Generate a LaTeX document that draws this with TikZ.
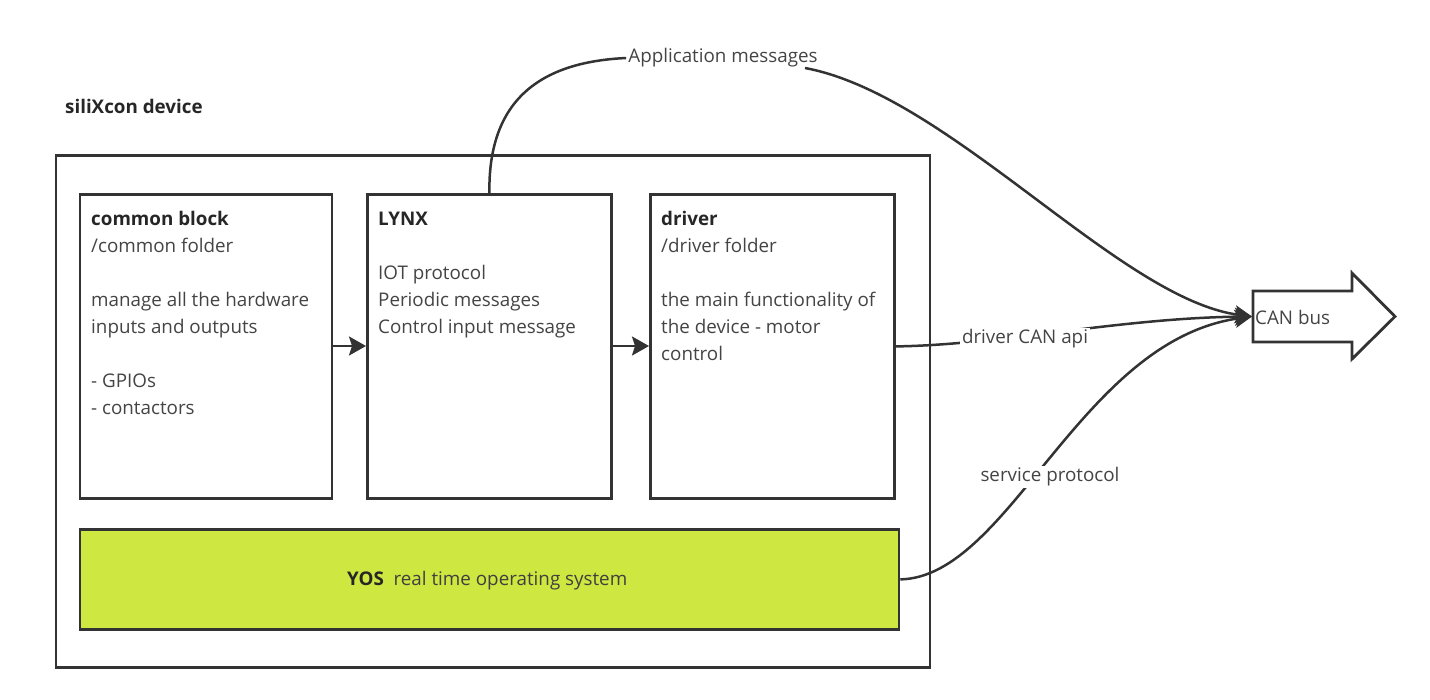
\documentclass[tikz,border=0pt]{standalone}
\usepackage{fontspec}
\setmainfont{Open Sans}
\usetikzlibrary{arrows.meta}
\definecolor{ink}{RGB}{51,51,51}
\definecolor{txtc}{RGB}{68,68,68}
\definecolor{lime}{RGB}{206,231,65}
\begin{document}
\begin{tikzpicture}[x=1pt,y=-1pt,
  box/.style={draw=ink,line width=2.8pt,anchor=north west,inner sep=0pt},
  txt/.style={text=txtc,anchor=north west,inner sep=0pt,align=left,font=\fontsize{18.8}{27}\selectfont},
  lbl/.style={text=txtc,inner sep=2pt,font=\fontsize{18.8}{27}\selectfont},
  conn/.style={draw=ink,line width=2.5pt,-{Stealth[length=17pt,width=18pt,inset=4pt]}},
  link/.style={draw=ink,line width=2.5pt},
  hd/.style={text=black!85}]
\useasboundingbox (0,0) rectangle (1430,699);
% title
\node[anchor=base west,inner sep=0pt,font=\fontsize{18.8}{27}\selectfont\bfseries,hd] (title) at (65,113) {siliXcon device};
% outer device box
\node[box,minimum width=874pt,minimum height=512pt] (device) at (54.5,154) {};
% inner boxes
\node[box,minimum width=252pt,minimum height=304pt] (common) at (78.5,193) {};
\node[box,minimum width=244pt,minimum height=304pt] (lynx) at (366,193) {};
\node[box,minimum width=244pt,minimum height=304pt] (driver) at (649,193) {};
\node[box,fill=lime,minimum width=819pt,minimum height=100pt] (yos) at (78.5,528) {};
% texts
\node[txt] (commonT) at (91,206) {\strut\textbf{\color{black!85}common block}\\/common folder\\ \\manage all the hardware\\inputs and outputs\\ \\- GPIOs\\- contactors};
\node[txt] (lynxT) at (378,206) {\strut\textbf{\color{black!85}LYNX}\\ \\IOT protocol\\Periodic messages\\Control input message};
\node[txt] (driverT) at (661,206) {\strut\textbf{\color{black!85}driver}\\/driver folder\\ \\the main functionality of\\the device - motor\\control};
\node[anchor=base west,inner sep=0pt,font=\fontsize{18.8}{27}\selectfont,text=black!75] (yosT) at (347,585) {\textbf{\color{black!85}YOS}\ \ real time operating system};
% arrows between blocks
\draw[conn,-{Stealth[length=17pt,width=19pt,inset=3pt]}] (common.east |- 0,346) -- (lynx.west |- 0,346);
\draw[conn,-{Stealth[length=17pt,width=19pt,inset=3pt]}] (lynx.east |- 0,346) -- (driver.west |- 0,346);
% CAN bus arrow
\draw[ink,line width=2.8pt,line join=miter] (1253,291) -- (1352,291) -- (1352,273) -- (1395,316.5) -- (1352,359) -- (1352,342) -- (1253,342) -- cycle;
\coordinate (canin) at (1252,316.5);
\node[anchor=west,inner sep=0pt,font=\fontsize{18.8}{27}\selectfont,text=txtc] (can) at (1255,317) {CAN bus};
% application messages
\node[lbl] (app) at (723,58) {Application messages};
\coordinate (appout) at (805,68);
\draw[link] (lynx.north) .. controls (488,100) and (540,62) .. (app.west);
\draw[conn] (appout) .. controls (950,95) and (1120,300) .. (canin);
% driver CAN api
\draw[conn] (driver.east) .. controls (1000,345) and (1120,318) .. (canin);
\node[lbl,fill=white] (api) at (1025,339) {driver CAN api};
% service protocol
\draw[conn] (yos.east) .. controls (1010,577) and (1080,340) .. (canin);
\node[lbl,fill=white] (svc) at (1050,477) {service protocol};
\end{tikzpicture}
\end{document}
